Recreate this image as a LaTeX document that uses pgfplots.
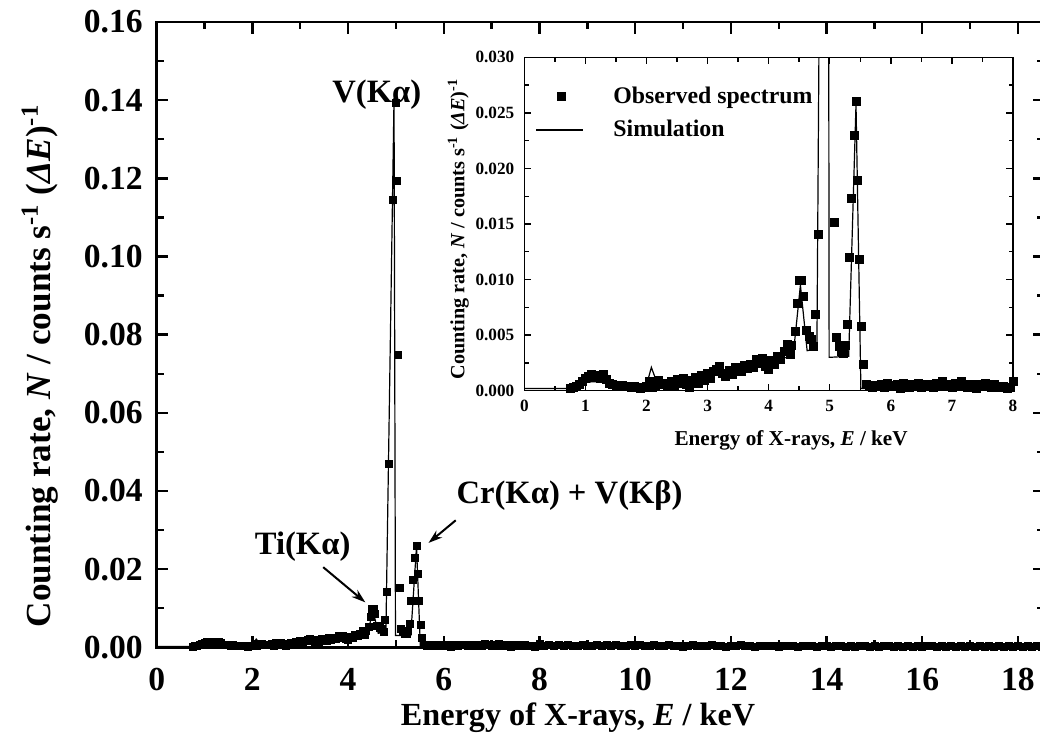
\documentclass[border=0pt]{standalone}
\usepackage{fontspec}
\setmainfont{Liberation Serif}
\usepackage{pgfplots}
\pgfplotsset{compat=1.18}
\usepackage{pgfplotstable}
\usetikzlibrary{arrows.meta}

\pgfplotsset{
  obsleg/.style={legend image code/.code={\path[draw=none] (0cm,0cm) -- (1.29cm,0cm); \draw[##1] plot coordinates {(0.45cm,0cm)};}},
  simleg/.style={legend image code/.code={\path[draw=none] (0cm,0cm) -- (1.29cm,0cm); \draw[##1] (0cm,0cm) -- (0.83cm,0cm);}},
}

% observed spectrum 0.75--8 keV
\pgfplotstableread{
E N
0.75 0.0002
0.80 0.0003
0.85 0.0004
0.90 0.0006
0.95 0.0008
1.00 0.0011
1.05 0.0013
1.10 0.0015
1.15 0.0012
1.20 0.0014
1.25 0.0011
1.30 0.0015
1.35 0.0010
1.40 0.0007
1.45 0.0006
1.50 0.0005
1.55 0.0004
1.60 0.0005
1.65 0.0004
1.70 0.0004
1.75 0.0003
1.80 0.0004
1.85 0.0003
1.90 0.0002
1.95 0.0003
2.00 0.0004
2.05 0.0008
2.10 0.0003
2.15 0.0005
2.20 0.0009
2.25 0.0006
2.30 0.0007
2.35 0.0005
2.40 0.0008
2.45 0.0004
2.50 0.0010
2.55 0.0007
2.60 0.0011
2.65 0.0006
2.70 0.0003
2.75 0.0009
2.80 0.0012
2.85 0.0007
2.90 0.0014
2.95 0.0009
3.00 0.0016
3.05 0.0011
3.10 0.0017
3.15 0.0019
3.20 0.0022
3.25 0.0016
3.30 0.0013
3.35 0.0018
3.40 0.0015
3.45 0.0021
3.50 0.0019
3.55 0.0017
3.60 0.0023
3.65 0.0020
3.70 0.0024
3.75 0.0021
3.80 0.0028
3.85 0.0025
3.90 0.0029
3.95 0.0022
4.00 0.0019
4.05 0.0027
4.10 0.0024
4.15 0.0031
4.20 0.0028
4.25 0.0035
4.30 0.0042
4.35 0.0033
4.38 0.0041
4.43 0.0053
4.47 0.0079
4.50 0.0099
4.54 0.0099
4.57 0.0085
4.61 0.0054
4.66 0.0049
4.70 0.0046
4.74 0.0040
4.76 0.0069
4.81 0.0141
4.86 0.0470
4.93 0.1146
4.99 0.1393
5.03 0.1194
5.05 0.0748
5.08 0.0151
5.11 0.0048
5.15 0.0040
5.19 0.0035
5.22 0.0034
5.26 0.0041
5.29 0.0060
5.32 0.0120
5.35 0.0173
5.40 0.0230
5.43 0.0260
5.46 0.0189
5.49 0.0118
5.52 0.0058
5.55 0.0024
5.60 0.0006
5.65 0.0004
5.70 0.0003
5.75 0.0005
5.80 0.0004
5.85 0.0006
5.90 0.0003
5.95 0.0007
6.00 0.0005
6.05 0.0004
6.10 0.0006
6.15 0.0002
6.20 0.0007
6.25 0.0004
6.30 0.0003
6.35 0.0006
6.40 0.0005
6.45 0.0007
6.50 0.0003
6.55 0.0004
6.60 0.0006
6.65 0.0005
6.70 0.0003
6.75 0.0007
6.80 0.0004
6.85 0.0008
6.90 0.0005
6.95 0.0006
7.00 0.0003
7.05 0.0007
7.10 0.0004
7.15 0.0008
7.20 0.0005
7.25 0.0003
7.30 0.0006
7.35 0.0004
7.40 0.0002
7.45 0.0006
7.50 0.0004
7.55 0.0007
7.60 0.0005
7.65 0.0003
7.70 0.0006
7.75 0.0004
7.80 0.0003
7.85 0.0004
7.90 0.0002
7.95 0.0003
8.00 0.0008
}\obsA

% observed spectrum 8.1--18.5 keV
\pgfplotstableread{
E N
8.1 0.0004
8.2 0.0005
8.3 0.0003
8.4 0.0006
8.5 0.0004
8.6 0.0005
8.7 0.0003
8.8 0.0004
8.9 0.0006
9.0 0.0004
9.1 0.0003
9.2 0.0005
9.3 0.0004
9.4 0.0006
9.5 0.0003
9.6 0.0005
9.7 0.0004
9.8 0.0003
9.9 0.0005
10.0 0.0004
10.1 0.0006
10.2 0.0003
10.3 0.0004
10.4 0.0005
10.5 0.0003
10.6 0.0004
10.7 0.0005
10.8 0.0003
10.9 0.0004
11.0 0.0002
11.1 0.0004
11.2 0.0005
11.3 0.0003
11.4 0.0004
11.5 0.0003
11.6 0.0005
11.7 0.0003
11.8 0.0004
11.9 0.0002
12.0 0.0004
12.1 0.0003
12.2 0.0005
12.3 0.0003
12.4 0.0004
12.5 0.0002
12.6 0.0004
12.7 0.0003
12.8 0.0004
12.9 0.0003
13.0 0.0002
13.1 0.0004
13.2 0.0003
13.3 0.0004
13.4 0.0002
13.5 0.0003
13.6 0.0004
13.7 0.0003
13.8 0.0002
13.9 0.0004
14.0 0.0003
14.1 0.0002
14.2 0.0003
14.3 0.0004
14.4 0.0002
14.5 0.0003
14.6 0.0002
14.7 0.0004
14.8 0.0003
14.9 0.0002
15.0 0.0003
15.1 0.0002
15.2 0.0003
15.3 0.0004
15.4 0.0002
15.5 0.0003
15.6 0.0002
15.7 0.0003
15.8 0.0002
15.9 0.0003
16.0 0.0002
16.1 0.0003
16.2 0.0004
16.3 0.0002
16.4 0.0003
16.5 0.0002
16.6 0.0003
16.7 0.0002
16.8 0.0003
16.9 0.0002
17.0 0.0003
17.1 0.0002
17.2 0.0003
17.3 0.0002
17.4 0.0003
17.5 0.0002
17.6 0.0003
17.7 0.0002
17.8 0.0003
17.9 0.0002
18.0 0.0003
18.1 0.0002
18.2 0.0003
18.3 0.0002
18.4 0.0003
18.5 0.0002
}\obsB

% simulation
\pgfplotstableread{
E N
0.00 0.0002
0.70 0.0002
0.85 0.0004
0.95 0.0007
1.10 0.0008
1.30 0.0008
1.45 0.0005
1.60 0.0003
1.90 0.0003
2.00 0.0005
2.08 0.0021
2.18 0.0006
2.40 0.0007
2.60 0.0008
2.80 0.0010
3.00 0.0013
3.20 0.0015
3.40 0.0017
3.60 0.0020
3.80 0.0023
4.00 0.0026
4.20 0.0029
4.40 0.0031
4.52 0.0095
4.63 0.0036
4.79 0.0038
4.96 0.1405
4.99 0.0030
5.31 0.0031
5.43 0.0258
5.51 0.0002
8.00 0.0002
18.55 0.0002
}\simtab

\begin{document}
\begin{tikzpicture}
\useasboundingbox (-78.35pt,-46.85pt) rectangle (441.65pt,323.65pt);
% ---------------- main axis ----------------
\begin{axis}[
  at={(0pt,0pt)}, anchor=south west,
  scale only axis, width=443.8pt, height=312.65pt,
  xmin=0, xmax=18.55, ymin=0, ymax=0.16,
  clip=false,
  axis line style={line width=1.2pt},
  every tick/.style={line width=1.2pt, black},
  major tick length=5.8pt, minor tick length=3.6pt,
  xtick={0,2,4,6,8,10,12,14,16,18}, minor x tick num=1,
  ytick={0,0.02,0.04,0.06,0.08,0.10,0.12,0.14,0.16}, minor y tick num=1,
  scaled y ticks=false,
  yticklabel style={/pgf/number format/fixed, /pgf/number format/fixed zerofill, /pgf/number format/precision=2},
  /pgf/number format/assume math mode=true,
  tick label style={font=\bfseries\fontsize{16.8}{18}\selectfont},
  xticklabel style={yshift=-7pt},
  yticklabel style={xshift=-3.5pt},
  xlabel={Energy of X-rays, \textit{E} / keV},
  ylabel={Counting rate, \textit{N} / counts s\textsuperscript{-1} (\textit{ΔE})\textsuperscript{-1}},
  x label style={at={(axis description cs:0.4747,-0.113)}, anchor=center, font=\bfseries\fontsize{16.1}{18}\selectfont},
  y label style={at={(axis description cs:-0.1315,0.45)}, anchor=center, font=\bfseries\fontsize{17.6}{19}\selectfont},
]
\addplot[black, line width=0.6pt] table[x=E, y=N] {\simtab};
\addplot[only marks, mark=square*, mark size=1.75pt, black] table[x=E, y=N] {\obsA};
\addplot[only marks, mark=square*, mark size=1.75pt, black] table[x=E, y=N] {\obsB};

\node[font=\bfseries\fontsize{16.3}{18}\selectfont] at (axis cs:4.60,0.1414) {V(Kα)};
\node[font=\bfseries\fontsize{16.3}{18}\selectfont] at (axis cs:3.05,0.0258) {Ti(Kα)};
\node[font=\bfseries\fontsize{16.3}{18}\selectfont, anchor=west] at (axis cs:6.12,0.0388) {Cr(Kα) + V(Kβ)};
\draw[line width=1pt, -{Stealth[length=7pt,width=4.5pt]}] (axis cs:3.48,0.0205) -- (axis cs:4.36,0.0115);
\draw[line width=1pt, -{Stealth[length=7pt,width=4.5pt]}] (axis cs:6.25,0.0325) -- (axis cs:5.68,0.0267);
\end{axis}

% ---------------- inset ----------------
\begin{axis}[
  at={(183.8pt,128.3pt)}, anchor=south west,
  scale only axis, width=244.35pt, height=166.7pt,
  xmin=0, xmax=8, ymin=0, ymax=0.030,
  axis line style={line width=0.7pt},
  every tick/.style={line width=0.7pt, black},
  major tick length=3.5pt, minor tick length=2.2pt,
  xtick={0,1,2,3,4,5,6,7,8}, minor x tick num=1,
  ytick={0,0.005,0.010,0.015,0.020,0.025,0.030}, minor y tick num=1,
  scaled y ticks=false,
  yticklabel style={/pgf/number format/fixed, /pgf/number format/fixed zerofill, /pgf/number format/precision=3, xshift=-1.5pt},
  /pgf/number format/assume math mode=true,
  tick label style={font=\bfseries\fontsize{8.6}{10}\selectfont},
  xticklabel style={yshift=-1pt},
  xlabel={Energy of X-rays, \textit{E} / keV},
  ylabel={Counting rate, \textit{N} / counts s\textsuperscript{-1} (\textit{ΔE})\textsuperscript{-1}},
  x label style={at={(axis description cs:0.546,-0.150)}, anchor=center, font=\bfseries\fontsize{10.6}{12}\selectfont},
  y label style={at={(axis description cs:-0.135,0.485)}, anchor=center, font=\bfseries\fontsize{10.1}{12}\selectfont},
  legend cell align=left,
  legend style={at={(0.022,0.925)}, anchor=north west, draw=none, fill=none,
    font=\bfseries\fontsize{11.9}{13}\selectfont, row sep=3pt, inner sep=0pt},
]
\addplot[only marks, mark=square*, mark size=2pt, black,
  restrict y to domain=0:0.03, obsleg]
  table[x=E, y=N] {\obsA};
\addlegendentry{Observed spectrum}
\addplot[black, line width=0.6pt, simleg]
  table[x=E, y=N] {\simtab};
\addlegendentry{Simulation}
\end{axis}
\end{tikzpicture}
\end{document}
